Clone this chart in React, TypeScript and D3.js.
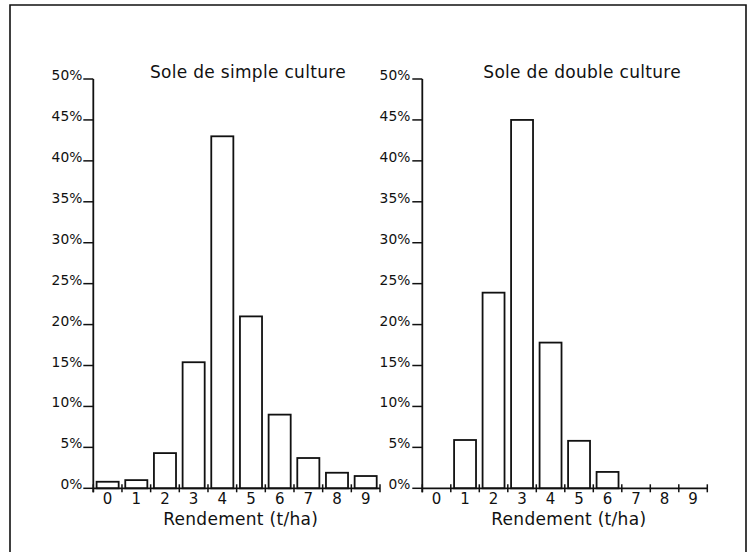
import React from "react";
import * as d3 from "d3";

const categories = ["0", "1", "2", "3", "4", "5", "6", "7", "8", "9"];
const simpleValues = [0.8, 1.0, 4.3, 15.4, 43.0, 21.0, 9.0, 3.7, 1.9, 1.5];
const doubleValues = [0, 5.9, 23.9, 45.0, 17.8, 5.8, 2.0, 0, 0, 0];
const yTicks = [0, 5, 10, 15, 20, 25, 30, 35, 40, 45, 50];
const titles = ["Sole de simple culture", "Sole de double culture"];
const xLabel = "Rendement (t/ha)";

const FONT = "'DejaVu Sans', Arial, sans-serif";

type PanelProps = {
  x0: number;
  x1: number;
  values: number[];
  title: string;
  titleX: number;
  labelOffset: number;
};

function Panel({ x0, x1, values, title, titleX, labelOffset }: PanelProps) {
  const y = d3.scaleLinear().domain([0, 50]).range([488.3, 79]);
  const band = d3.scaleBand<string>().domain(categories).range([x0, x1]).paddingInner(0.23).paddingOuter(0.115);
  const bin = (x1 - x0) / categories.length;
  const y0 = y(0);
  return (
    <g>
      {values.map((v, i) =>
        v > 0 ? (
          <rect
            key={i}
            x={band(categories[i])!}
            y={y(v)}
            width={band.bandwidth()}
            height={y0 - y(v)}
            fill="white"
            stroke="#111"
            strokeWidth={1.8}
          />
        ) : null
      )}
      <line x1={x0} x2={x0} y1={y(50)} y2={y0 + 4} stroke="#111" strokeWidth={1.8} />
      {yTicks.map((t) => (
        <g key={t}>
          <line x1={x0 - 10} x2={x0} y1={y(t)} y2={y(t)} stroke="#111" strokeWidth={1.5} />
          <text
            x={x0 - labelOffset}
            y={y(t) + 1}
            textAnchor="end"
            fontFamily={FONT}
            fontSize={13.8}
            fill="#111"
          >
            {t}%
          </text>
        </g>
      ))}
      <line x1={x0} x2={x1} y1={y0} y2={y0} stroke="#111" strokeWidth={1.8} />
      {d3.range(categories.length + 1).map((i) => (
        <line
          key={i}
          x1={x0 + i * bin}
          x2={x0 + i * bin}
          y1={y0 - 4}
          y2={y0 + 4}
          stroke="#111"
          strokeWidth={1.5}
        />
      ))}
      {categories.map((c) => (
        <text
          key={c}
          x={band(c)! + band.bandwidth() / 2}
          y={504}
          textAnchor="middle"
          fontFamily={FONT}
          fontSize={15}
          fill="#111"
        >
          {c}
        </text>
      ))}
      <text
        x={(x0 + x1) / 2 + 4}
        y={525}
        textAnchor="middle"
        fontFamily={FONT}
        fontSize={17}
        letterSpacing={0.3}
        fill="#111"
      >
        {xLabel}
      </text>
      <text x={titleX} y={78} fontFamily={FONT} fontSize={17} letterSpacing={0.3} fill="#111">
        {title}
      </text>
    </g>
  );
}

export default function App() {
  return (
    <svg
      width={747}
      height={552}
      viewBox="0 0 747 552"
      style={{ position: "absolute", left: 0, top: 0, background: "white" }}
    >
      <rect x={0} y={0} width={747} height={552} fill="white" />
      <path d="M10,552 L10,5 L746,5 L746,552" fill="none" stroke="#111" strokeWidth={1.6} />
      <Panel x0={93.3} x1={380} values={simpleValues} title={titles[0]} titleX={150} labelOffset={11} />
      <Panel x0={422.3} x1={707.3} values={doubleValues} title={titles[1]} titleX={483.3} labelOffset={12} />
    </svg>
  );
}
